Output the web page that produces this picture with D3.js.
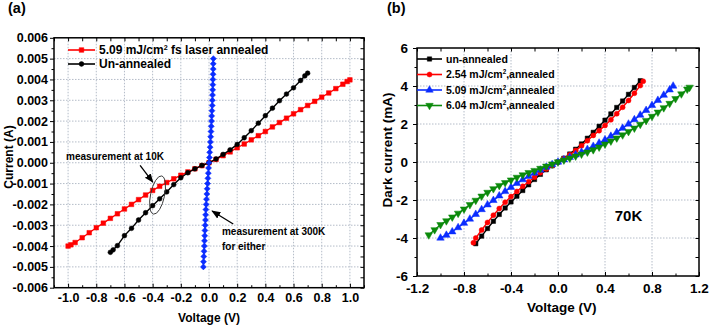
<!DOCTYPE html>
<html>
<head>
<meta charset="utf-8">
<script src="https://cdn.jsdelivr.net/npm/d3@7"></script>
<style>
  body { margin: 0; background: #fff; }
  svg text { font-family: "Liberation Sans", Arial, sans-serif; font-weight: bold; fill: #000; }
</style>
</head>
<body>
<script>
// ---- panel (a) data : current in A vs voltage in V ----
const aRedV = [-1.0, -0.98, -0.95, -0.9, -0.85, -0.8, -0.75, -0.7, -0.65, -0.6, -0.55, -0.5, -0.45, -0.4, -0.35, -0.3, -0.25, -0.2, -0.15, -0.1, -0.05,
  0, 0.05, 0.1, 0.15, 0.2, 0.25, 0.3, 0.35, 0.4, 0.45, 0.5, 0.55, 0.6, 0.65, 0.7, 0.75, 0.8, 0.85, 0.9, 0.95, 0.98, 1.0];
const aRedI = [-0.004, -0.00394, -0.00383, -0.0036, -0.00336, -0.00312, -0.0029, -0.00267, -0.00245, -0.00222, -0.002, -0.00177, -0.00155, -0.00133, -0.00113, -0.00095, -0.00077, -0.0006, -0.00044, -0.00029, -0.00014,
  0, 0.00016, 0.00034, 0.00052, 0.00072, 0.0009, 0.0011, 0.0013, 0.0015, 0.00172, 0.00193, 0.00214, 0.00235, 0.00255, 0.00275, 0.00295, 0.00315, 0.00335, 0.00356, 0.00377, 0.0039, 0.00398];

const aBlackV = [-0.7, -0.68, -0.65, -0.6, -0.55, -0.5, -0.45, -0.4, -0.35, -0.3, -0.25, -0.2, -0.15, -0.1, -0.05,
  0, 0.05, 0.1, 0.15, 0.2, 0.25, 0.3, 0.35, 0.4, 0.45, 0.5, 0.55, 0.6, 0.65, 0.68, 0.7];
const aBlackI = [-0.0043, -0.00418, -0.00398, -0.0035, -0.00315, -0.00275, -0.0024, -0.00206, -0.00173, -0.0014, -0.00105, -0.00072, -0.00048, -0.00029, -0.00013,
  0, 0.00018, 0.0004, 0.00062, 0.00088, 0.0012, 0.00154, 0.0019, 0.00226, 0.00262, 0.00298, 0.0033, 0.0036, 0.00395, 0.00417, 0.0043];

// 300K curve (either sample), read top to bottom along current
const aBlueI = [-0.005, -0.00475, -0.0045, -0.00425, -0.004, -0.00375, -0.0035, -0.00325, -0.003, -0.00275, -0.0025, -0.00225, -0.002, -0.00175, -0.0015, -0.00125, -0.001, -0.00075, -0.0005, -0.00025,
  0, 0.00025, 0.0005, 0.00075, 0.001, 0.00125, 0.0015, 0.00175, 0.002, 0.00225, 0.0025, 0.00275, 0.003, 0.00325, 0.0035, 0.00375, 0.004, 0.00425, 0.0045, 0.00475, 0.005];
const aBlueV = [-0.04, -0.039, -0.037, -0.035, -0.033, -0.032, -0.03, -0.029, -0.027, -0.025, -0.024, -0.022, -0.02, -0.018, -0.015, -0.013, -0.01, -0.008, -0.005, -0.003,
  0, 0.003, 0.005, 0.008, 0.01, 0.012, 0.014, 0.016, 0.018, 0.019, 0.021, 0.023, 0.024, 0.025, 0.026, 0.027, 0.028, 0.029, 0.03, 0.03, 0.031];

const aXTicks = [-1.0, -0.8, -0.6, -0.4, -0.2, 0.0, 0.2, 0.4, 0.6, 0.8, 1.0];
const aXMinor = [-1.1, -0.9, -0.7, -0.5, -0.3, -0.1, 0.1, 0.3, 0.5, 0.7, 0.9, 1.1];
const aYTicks = [-0.006, -0.005, -0.004, -0.003, -0.002, -0.001, 0, 0.001, 0.002, 0.003, 0.004, 0.005, 0.006];
const aYMinor = [-0.0055, -0.0045, -0.0035, -0.0025, -0.0015, -0.0005, 0.0005, 0.0015, 0.0025, 0.0035, 0.0045, 0.0055];

// ---- panel (b) data : dark current in mA vs voltage in V, 70K ----
const bBlackV = [-0.7, -0.65, -0.6, -0.55, -0.5, -0.45, -0.4, -0.35, -0.3, -0.25, -0.2, -0.15, -0.1, -0.05,
  0, 0.05, 0.1, 0.15, 0.2, 0.25, 0.3, 0.35, 0.4, 0.45, 0.5, 0.55, 0.6, 0.65, 0.7];
const bBlackI = [-4.3, -3.9, -3.5, -3.12, -2.76, -2.42, -2.1, -1.8, -1.5, -1.2, -0.92, -0.65, -0.41, -0.2,
  0, 0.2, 0.42, 0.67, 0.95, 1.25, 1.56, 1.88, 2.2, 2.53, 2.87, 3.21, 3.56, 3.92, 4.28];

const bRedV = [-0.72, -0.7, -0.65, -0.6, -0.55, -0.5, -0.45, -0.4, -0.35, -0.3, -0.25, -0.2, -0.15, -0.1, -0.05,
  0, 0.05, 0.1, 0.15, 0.2, 0.25, 0.3, 0.35, 0.4, 0.45, 0.5, 0.55, 0.6, 0.65, 0.7, 0.725];
const bRedI = [-4.25, -4.0, -3.58, -3.18, -2.8, -2.45, -2.12, -1.82, -1.55, -1.28, -1.04, -0.8, -0.57, -0.37, -0.18,
  0, 0.18, 0.38, 0.6, 0.85, 1.12, 1.4, 1.65, 1.92, 2.22, 2.54, 2.88, 3.24, 3.62, 4.02, 4.25];

const bBlueV = [-1.0, -0.95, -0.9, -0.85, -0.8, -0.75, -0.7, -0.65, -0.6, -0.55, -0.5, -0.45, -0.4, -0.35, -0.3, -0.25, -0.2, -0.15, -0.1, -0.05,
  0, 0.05, 0.1, 0.15, 0.2, 0.25, 0.3, 0.35, 0.4, 0.45, 0.5, 0.55, 0.6, 0.65, 0.7, 0.75, 0.8, 0.85, 0.9, 0.95, 0.98];
const bBlueI = [-4.0, -3.85, -3.67, -3.45, -3.22, -3.0, -2.75, -2.5, -2.25, -2.02, -1.78, -1.55, -1.33, -1.12, -0.93, -0.75, -0.58, -0.42, -0.27, -0.13,
  0, 0.12, 0.25, 0.38, 0.52, 0.67, 0.83, 1.0, 1.17, 1.36, 1.56, 1.78, 2.0, 2.23, 2.47, 2.72, 2.98, 3.25, 3.52, 3.8, 4.0];

const bGreenV = [-1.1, -1.05, -1.0, -0.95, -0.9, -0.85, -0.8, -0.75, -0.7, -0.65, -0.6, -0.55, -0.5, -0.45, -0.4, -0.35, -0.3, -0.25, -0.2, -0.15, -0.1, -0.05,
  0, 0.05, 0.1, 0.15, 0.2, 0.25, 0.3, 0.35, 0.4, 0.45, 0.5, 0.55, 0.6, 0.65, 0.7, 0.75, 0.8, 0.85, 0.9, 0.95, 1.0, 1.05, 1.1, 1.12];
const bGreenI = [-3.84, -3.57, -3.3, -3.1, -2.9, -2.7, -2.48, -2.25, -2.02, -1.8, -1.6, -1.41, -1.24, -1.09, -0.95, -0.81, -0.68, -0.56, -0.45, -0.34, -0.22, -0.11,
  0, 0.1, 0.2, 0.31, 0.41, 0.52, 0.64, 0.78, 0.94, 1.1, 1.26, 1.42, 1.6, 1.78, 1.98, 2.18, 2.4, 2.62, 2.85, 3.08, 3.33, 3.58, 3.83, 3.93];

const bXTicks = [-1.2, -0.8, -0.4, 0.0, 0.4, 0.8, 1.2];
const bXMinor = [-1.0, -0.6, -0.2, 0.2, 0.6, 1.0];
const bYTicks = [-6, -4, -2, 0, 2, 4, 6];
const bYMinor = [-5, -3, -1, 1, 3, 5];

const aLegend = ['5.09 mJ/cm|2| fs laser annealed', 'Un-annealed'];
const bLegend = ['un-annealed', '2.54 mJ/cm|2|,annealed', '5.09 mJ/cm|2|,annealed', '6.04 mJ/cm|2|,annealed'];

const RED = '#ff0000', BLUE = '#0a2cff', GREEN = '#0b8a0b', BLACK = '#000';

const svg = d3.select('body').append('svg')
  .attr('width', 709).attr('height', 326);

// little helper for "cm<sup>2</sup>" labels
function richText(sel, str, size) {
  str.split('|').forEach((part, i) => {
    if (i % 2 === 1) {
      sel.append('tspan').attr('dy', -size * 0.4).attr('font-size', size * 0.6).text(part);
    } else {
      sel.append('tspan').attr('dy', i === 0 ? 0 : size * 0.4).text(part);
    }
  });
}

function marker(sel, shape, color, size) {
  let sym;
  if (shape === 'square') sym = d3.symbol(d3.symbolSquare, size * size);
  else if (shape === 'circle') sym = d3.symbol(d3.symbolCircle, Math.PI * size * size / 4);
  else if (shape === 'diamond') sym = d3.symbol(d3.symbolSquare, size * size / 2);
  else sym = d3.symbol(d3.symbolTriangle, size * size * 0.9);
  sel.attr('d', sym).attr('fill', color).attr('stroke', color).attr('stroke-width', 0.5);
  if (shape === 'diamond') sel.attr('transform', function() { return d3.select(this).attr('transform') + ' rotate(45)'; });
  if (shape === 'down') sel.attr('transform', function() { return d3.select(this).attr('transform') + ' rotate(180)'; });
}

function frame(x, y, cfg) {
  const [x0, x1] = x.range(), [y0, y1] = y.range();
  const g = svg.append('g');

  // dotted grid at major ticks
  g.append('g').selectAll('line')
    .data(cfg.xTicks.filter(v => x(v) > x0 + 1 && x(v) < x1 - 1))
    .join('line')
      .attr('x1', d => x(d)).attr('x2', d => x(d)).attr('y1', y1).attr('y2', y0)
      .attr('stroke', '#b4bcc8').attr('stroke-dasharray', '1.5,1.5');
  g.append('g').selectAll('line')
    .data(cfg.yTicks.filter(v => y(v) < y0 - 1 && y(v) > y1 + 1))
    .join('line')
      .attr('y1', d => y(d)).attr('y2', d => y(d)).attr('x1', x0).attr('x2', x1)
      .attr('stroke', '#b4bcc8').attr('stroke-dasharray', '1.5,1.5');

  const clean = s => s.select('.domain').remove();
  const style = s => s.attr('font-size', null).attr('font-family', null)
    .selectAll('text').attr('font-size', cfg.tickFont);

  // bottom (inward ticks) + labels
  g.append('g').attr('transform', `translate(0,${y0})`)
    .call(d3.axisBottom(x).tickValues(cfg.xTicks).tickSize(-4).tickPadding(cfg.padX).tickFormat(cfg.xFmt))
    .call(clean).call(style);
  g.append('g').attr('transform', `translate(0,${y0})`)
    .call(d3.axisBottom(x).tickValues(cfg.xMinor).tickSize(-2.5).tickFormat(''))
    .call(clean);
  // top (inward)
  g.append('g').attr('transform', `translate(0,${y1})`)
    .call(d3.axisTop(x).tickValues(cfg.xTicks.concat(cfg.xMinor)).tickSize(-3.5).tickFormat(''))
    .call(clean);
  // left (outward) + labels
  g.append('g').attr('transform', `translate(${x0},0)`)
    .call(d3.axisLeft(y).tickValues(cfg.yTicks).tickSize(4).tickPadding(cfg.padY).tickFormat(cfg.yFmt))
    .call(clean).call(style);
  g.append('g').attr('transform', `translate(${x0},0)`)
    .call(d3.axisLeft(y).tickValues(cfg.yMinor).tickSize(2.5).tickFormat(''))
    .call(clean);
  // right (inward)
  g.append('g').attr('transform', `translate(${x1},0)`)
    .call(d3.axisRight(y).tickValues(cfg.yTicks.concat(cfg.yMinor)).tickSize(-3.5).tickFormat(''))
    .call(clean);

  g.append('rect')
    .attr('x', x0).attr('y', y1).attr('width', x1 - x0).attr('height', y0 - y1)
    .attr('fill', 'none').attr('stroke', '#000').attr('stroke-width', 1.5);
  return g;
}

function series(g, x, y, xs, ys, color, shape, size) {
  const pts = d3.zip(xs, ys);
  const line = d3.line().x(d => x(d[0])).y(d => y(d[1]));
  g.append('path').datum(pts)
    .attr('d', line).attr('fill', 'none').attr('stroke', color).attr('stroke-width', 1.4);
  g.append('g').selectAll('path').data(pts).join('path')
    .attr('transform', d => `translate(${x(d[0])},${y(d[1])})`)
    .call(marker, shape, color, size);
}

function legendRow(g, xa, xb, yy, color, shape, size, label, font) {
  g.append('line').attr('x1', xa).attr('x2', xb).attr('y1', yy).attr('y2', yy)
    .attr('stroke', color).attr('stroke-width', 1.6);
  g.append('path').attr('transform', `translate(${(xa + xb) / 2},${yy})`)
    .call(marker, shape, color, size);
  g.append('text').attr('x', xb + 4).attr('y', yy + font * 0.36).attr('font-size', font)
    .call(richText, label, font);
}

// ================= panel (a) =================
const xa = d3.scaleLinear().domain([-1.1, 1.1]).range([54, 364]);
const ya = d3.scaleLinear().domain([-0.006, 0.006]).range([287.7, 37.8]);

const ga = frame(xa, ya, {
  xTicks: aXTicks, xMinor: aXMinor, yTicks: aYTicks, yMinor: aYMinor,
  xFmt: d => d.toFixed(1), yFmt: d => d.toFixed(3),
  tickFont: 12.5, padX: 5, padY: 2
});

series(ga, xa, ya, aRedV, aRedI, RED, 'square', 4.6);
series(ga, xa, ya, aBlackV, aBlackI, BLACK, 'circle', 4.8);
series(ga, xa, ya, aBlueV, aBlueI, BLUE, 'diamond', 6);

legendRow(ga, 68, 95, 50, RED, 'square', 4.6, aLegend[0], 12);
legendRow(ga, 68, 95, 64, BLACK, 'circle', 4.8, aLegend[1], 12);

// annotations, placed in data units
svg.append('defs').append('marker')
  .attr('id', 'arrow').attr('viewBox', '0 0 10 10').attr('refX', 9).attr('refY', 5)
  .attr('markerWidth', 7).attr('markerHeight', 7).attr('orient', 'auto')
  .append('path').attr('d', 'M0,1 L10,5 L0,9 Z').attr('fill', '#000');

ga.append('text').attr('x', xa(-1.014)).attr('y', ya(0.00011)).attr('font-size', 10)
  .text('measurement at 10K');
ga.append('line')
  .attr('x1', xa(-0.489)).attr('y1', ya(-0.00013)).attr('x2', xa(-0.399)).attr('y2', ya(-0.00093))
  .attr('stroke', '#000').attr('stroke-width', 1.3).attr('marker-end', 'url(#arrow)');
ga.append('ellipse')
  .attr('transform', `translate(${xa(-0.365)},${ya(-0.00155)}) rotate(12)`)
  .attr('rx', 7).attr('ry', 19.5)
  .attr('fill', 'none').attr('stroke', '#333').attr('stroke-width', 0.9);

ga.append('text').attr('x', xa(0.092)).attr('y', ya(-0.00345)).attr('font-size', 10)
  .text('measurement at 300K');
ga.append('text').attr('x', xa(0.092)).attr('y', ya(-0.00418)).attr('font-size', 10)
  .text('for either');
ga.append('line')
  .attr('x1', xa(0.172)).attr('y1', ya(-0.00294)).attr('x2', xa(0.022)).attr('y2', ya(-0.00232))
  .attr('stroke', '#000').attr('stroke-width', 1.3).attr('marker-end', 'url(#arrow)');

svg.append('text').attr('x', 8).attr('y', 13).attr('font-size', 14.5).text('(a)');
svg.append('text').attr('x', 209).attr('y', 322).attr('text-anchor', 'middle').attr('font-size', 12)
  .text('Voltage (V)');
svg.append('text').attr('transform', 'translate(12.5,157) rotate(-90)').attr('text-anchor', 'middle')
  .attr('font-size', 12).text('Current (A)');

// ================= panel (b) =================
const xb = d3.scaleLinear().domain([-1.2, 1.2]).range([417, 699]);
const yb = d3.scaleLinear().domain([-6, 6]).range([276, 48]);

const gb = frame(xb, yb, {
  xTicks: bXTicks, xMinor: bXMinor, yTicks: bYTicks, yMinor: bYMinor,
  xFmt: d => d.toFixed(1), yFmt: d => String(d),
  tickFont: 13.5, padX: 7, padY: 5
});

series(gb, xb, yb, bBlackV, bBlackI, BLACK, 'square', 4.4);
series(gb, xb, yb, bRedV, bRedI, RED, 'circle', 5);
series(gb, xb, yb, bBlueV, bBlueI, BLUE, 'up', 5.2);
series(gb, xb, yb, bGreenV, bGreenI, GREEN, 'down', 5.2);

legendRow(gb, 417, 442, 59, BLACK, 'square', 4.4, bLegend[0], 10.5);
legendRow(gb, 417, 442, 74.5, RED, 'circle', 5, bLegend[1], 10.5);
legendRow(gb, 417, 442, 90, BLUE, 'up', 5.2, bLegend[2], 10.5);
legendRow(gb, 417, 442, 105.5, GREEN, 'down', 5.2, bLegend[3], 10.5);

gb.append('text').attr('x', xb(0.6)).attr('y', yb(-3.1)).attr('text-anchor', 'middle')
  .attr('font-size', 15).text('70K');

svg.append('text').attr('x', 387).attr('y', 13).attr('font-size', 14.5).text('(b)');
svg.append('text').attr('x', 561.7).attr('y', 312).attr('text-anchor', 'middle').attr('font-size', 13.5)
  .text('Voltage (V)');
svg.append('text').attr('transform', 'translate(392,150) rotate(-90)').attr('text-anchor', 'middle')
  .attr('font-size', 13.5).text('Dark current (mA)');
</script>
</body>
</html>
